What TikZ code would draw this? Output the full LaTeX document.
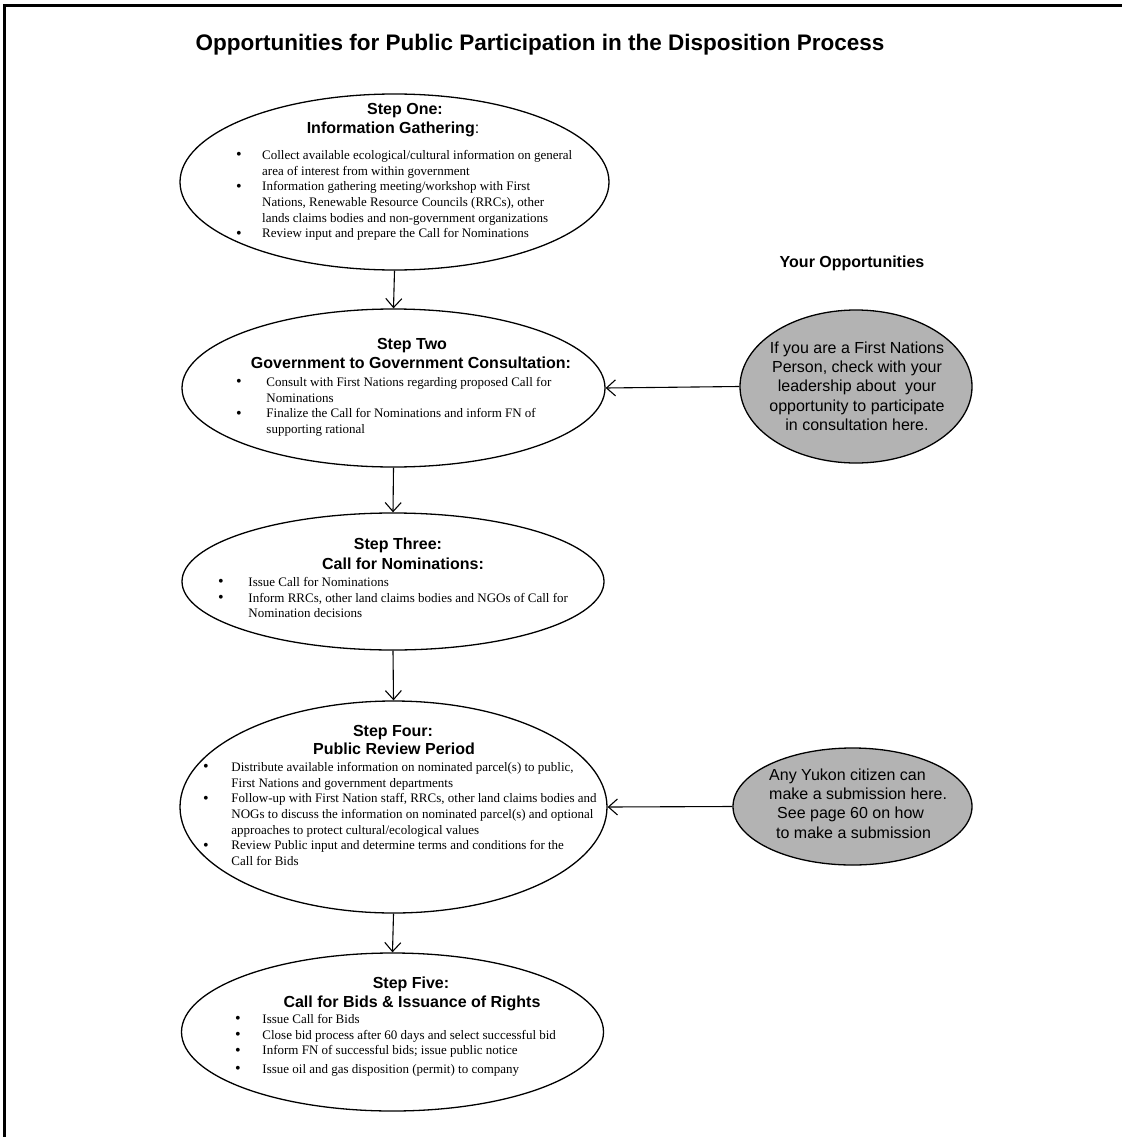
\documentclass[tikz,border=0pt]{standalone}
\usepackage{fontspec}
\setmainfont{Liberation Serif}
\newfontfamily\arialf{Liberation Sans}
\usetikzlibrary{shapes.geometric,arrows.meta}
\definecolor{ovalgray}{RGB}{179,179,179}
\newcommand{\itm}[1][26pt]{\makebox[#1][l]{\raisebox{-0.5pt}{\fontsize{16}{16}\selectfont\textbullet}}}
\newcommand{\cnt}[1][26pt]{\hspace*{#1}}
\begin{document}
\begin{tikzpicture}[x=1pt,y=-1pt,
  oval/.style={draw, ellipse, line width=1.3pt, inner sep=0pt},
  stepoval/.style={oval, fill=white},
  grayoval/.style={oval, fill=ovalgray},
  head/.style={font=\arialf\bfseries\fontsize{16}{19}\selectfont, inner sep=0pt, anchor=base},
  body/.style={font=\fontsize{13}{15.7}\selectfont, align=left, inner sep=0pt, anchor=north west},
  note/.style={font=\arialf\fontsize{16}{19.3}\selectfont, inner sep=0pt},
  arr/.style={line width=1.1pt, -{Straight Barb[length=9pt,width=16pt,line width=1.1pt]}}
]
\useasboundingbox (0,0) rectangle (1122,1137);
% frame
\draw[line width=2.2pt] (4.5,1137) -- (4.5,5.5) -- (1122,5.5);

% title
\node[font=\arialf\bfseries\fontsize{22.5}{27}\selectfont, inner sep=0pt, anchor=base] (title) at (540,51) {Opportunities for Public Participation in the Disposition Process};
\node[head] (yo) at (852,267) {Your Opportunities};

% ellipses
\node[stepoval, minimum width=429pt, minimum height=176pt] (s1) at (394.5,182) {};
\node[stepoval, minimum width=423pt, minimum height=158pt] (s2) at (393.5,388) {};
\node[stepoval, minimum width=422pt, minimum height=137pt] (s3) at (393,581.5) {};
\node[stepoval, minimum width=427pt, minimum height=212pt] (s4) at (393.5,807) {};
\node[stepoval, minimum width=422pt, minimum height=158pt] (s5) at (392.5,1032) {};
\node[grayoval, minimum width=232pt, minimum height=153pt] (g1) at (856,386.5) {};
\node[grayoval, minimum width=239pt, minimum height=117pt] (g2) at (852.5,806.5) {};

% step one
\node[head] (h1a) at (405,114) {Step One:};
\node[head] (h1b) at (393,133) {Information Gathering{\mdseries:}};
\node[body] (b1) at (236,150) {\itm Collect available ecological/cultural information on general\\
\cnt area of interest from within government\\
\itm Information gathering meeting/workshop with First\\
\cnt Nations, Renewable Resource Councils (RRCs), other\\
\cnt lands claims bodies and non-government organizations\\
\itm Review input and prepare the Call for Nominations};

% step two
\node[head] (h2a) at (412,349) {Step Two};
\node[head] (h2b) at (411,368) {Government to Government Consultation:};
\node[body] (b2) at (236,377) {\itm[27pt] Consult with First Nations regarding proposed Call for\\
\cnt[27pt] Nominations\\
\itm[27pt] Finalize the Call for Nominations and inform FN of\\
\cnt[27pt] supporting rational};

% step three
\node[head] (h3a) at (398,549) {Step Three:};
\node[head] (h3b) at (403,569) {Call for Nominations:};
\node[body] (b3) at (218,577) {\itm[27pt] Issue Call for Nominations\\
\itm[27pt] Inform RRCs, other land claims bodies and NGOs of Call for\\
\cnt[27pt] Nomination decisions};

% step four
\node[head] (h4a) at (393,736) {Step Four:};
\node[head] (h4b) at (394,754) {Public Review Period};
\node[body] (b4) at (203,762) {\itm[25pt] Distribute available information on nominated parcel(s) to public,\\
\cnt[25pt] First Nations and government departments\\
\itm[25pt] Follow-up with First Nation staff, RRCs, other land claims bodies and\\
\cnt[25pt] NOGs to discuss the information on nominated parcel(s) and optional\\
\cnt[25pt] approaches to protect cultural/ecological values\\
\itm[25pt] Review Public input and determine terms and conditions for the\\
\cnt[25pt] Call for Bids};

% step five
\node[head] (h5a) at (411,988) {Step Five:};
\node[head] (h5b) at (412,1007) {Call for Bids \& Issuance of Rights};
\node[body] (b5) at (235,1014) {\itm[24pt] Issue Call for Bids\\
\itm[24pt] Close bid process after 60 days and select successful bid\\
\itm[24pt] Inform FN of successful bids; issue public notice\\[3pt]
\itm[24pt] Issue oil and gas disposition (permit) to company};

% opportunity texts
\node[note, align=center] (t1) at (857,386) {If you are a First Nations\\Person, check with your\\leadership about\ \ your\\opportunity to participate\\in consultation here.};
\node[note, align=left, anchor=north west] (t2) at (769,768.3) {Any Yukon citizen can\\make a submission here.\\\hspace*{8pt}See page 60 on how\\\hspace*{7pt}to make a submission};

% connectors
\draw[arr] (s1.south) -- (s2.north);
\draw[arr] (s2.south) -- (s3.north);
\draw[arr] (s3.south) -- (s4.north);
\draw[arr] (s4.south) -- (s5.north);
\draw[arr] (g1.west) -- (s2.east);
\draw[arr] (g2.west) -- (s4.east);
\end{tikzpicture}
\end{document}
